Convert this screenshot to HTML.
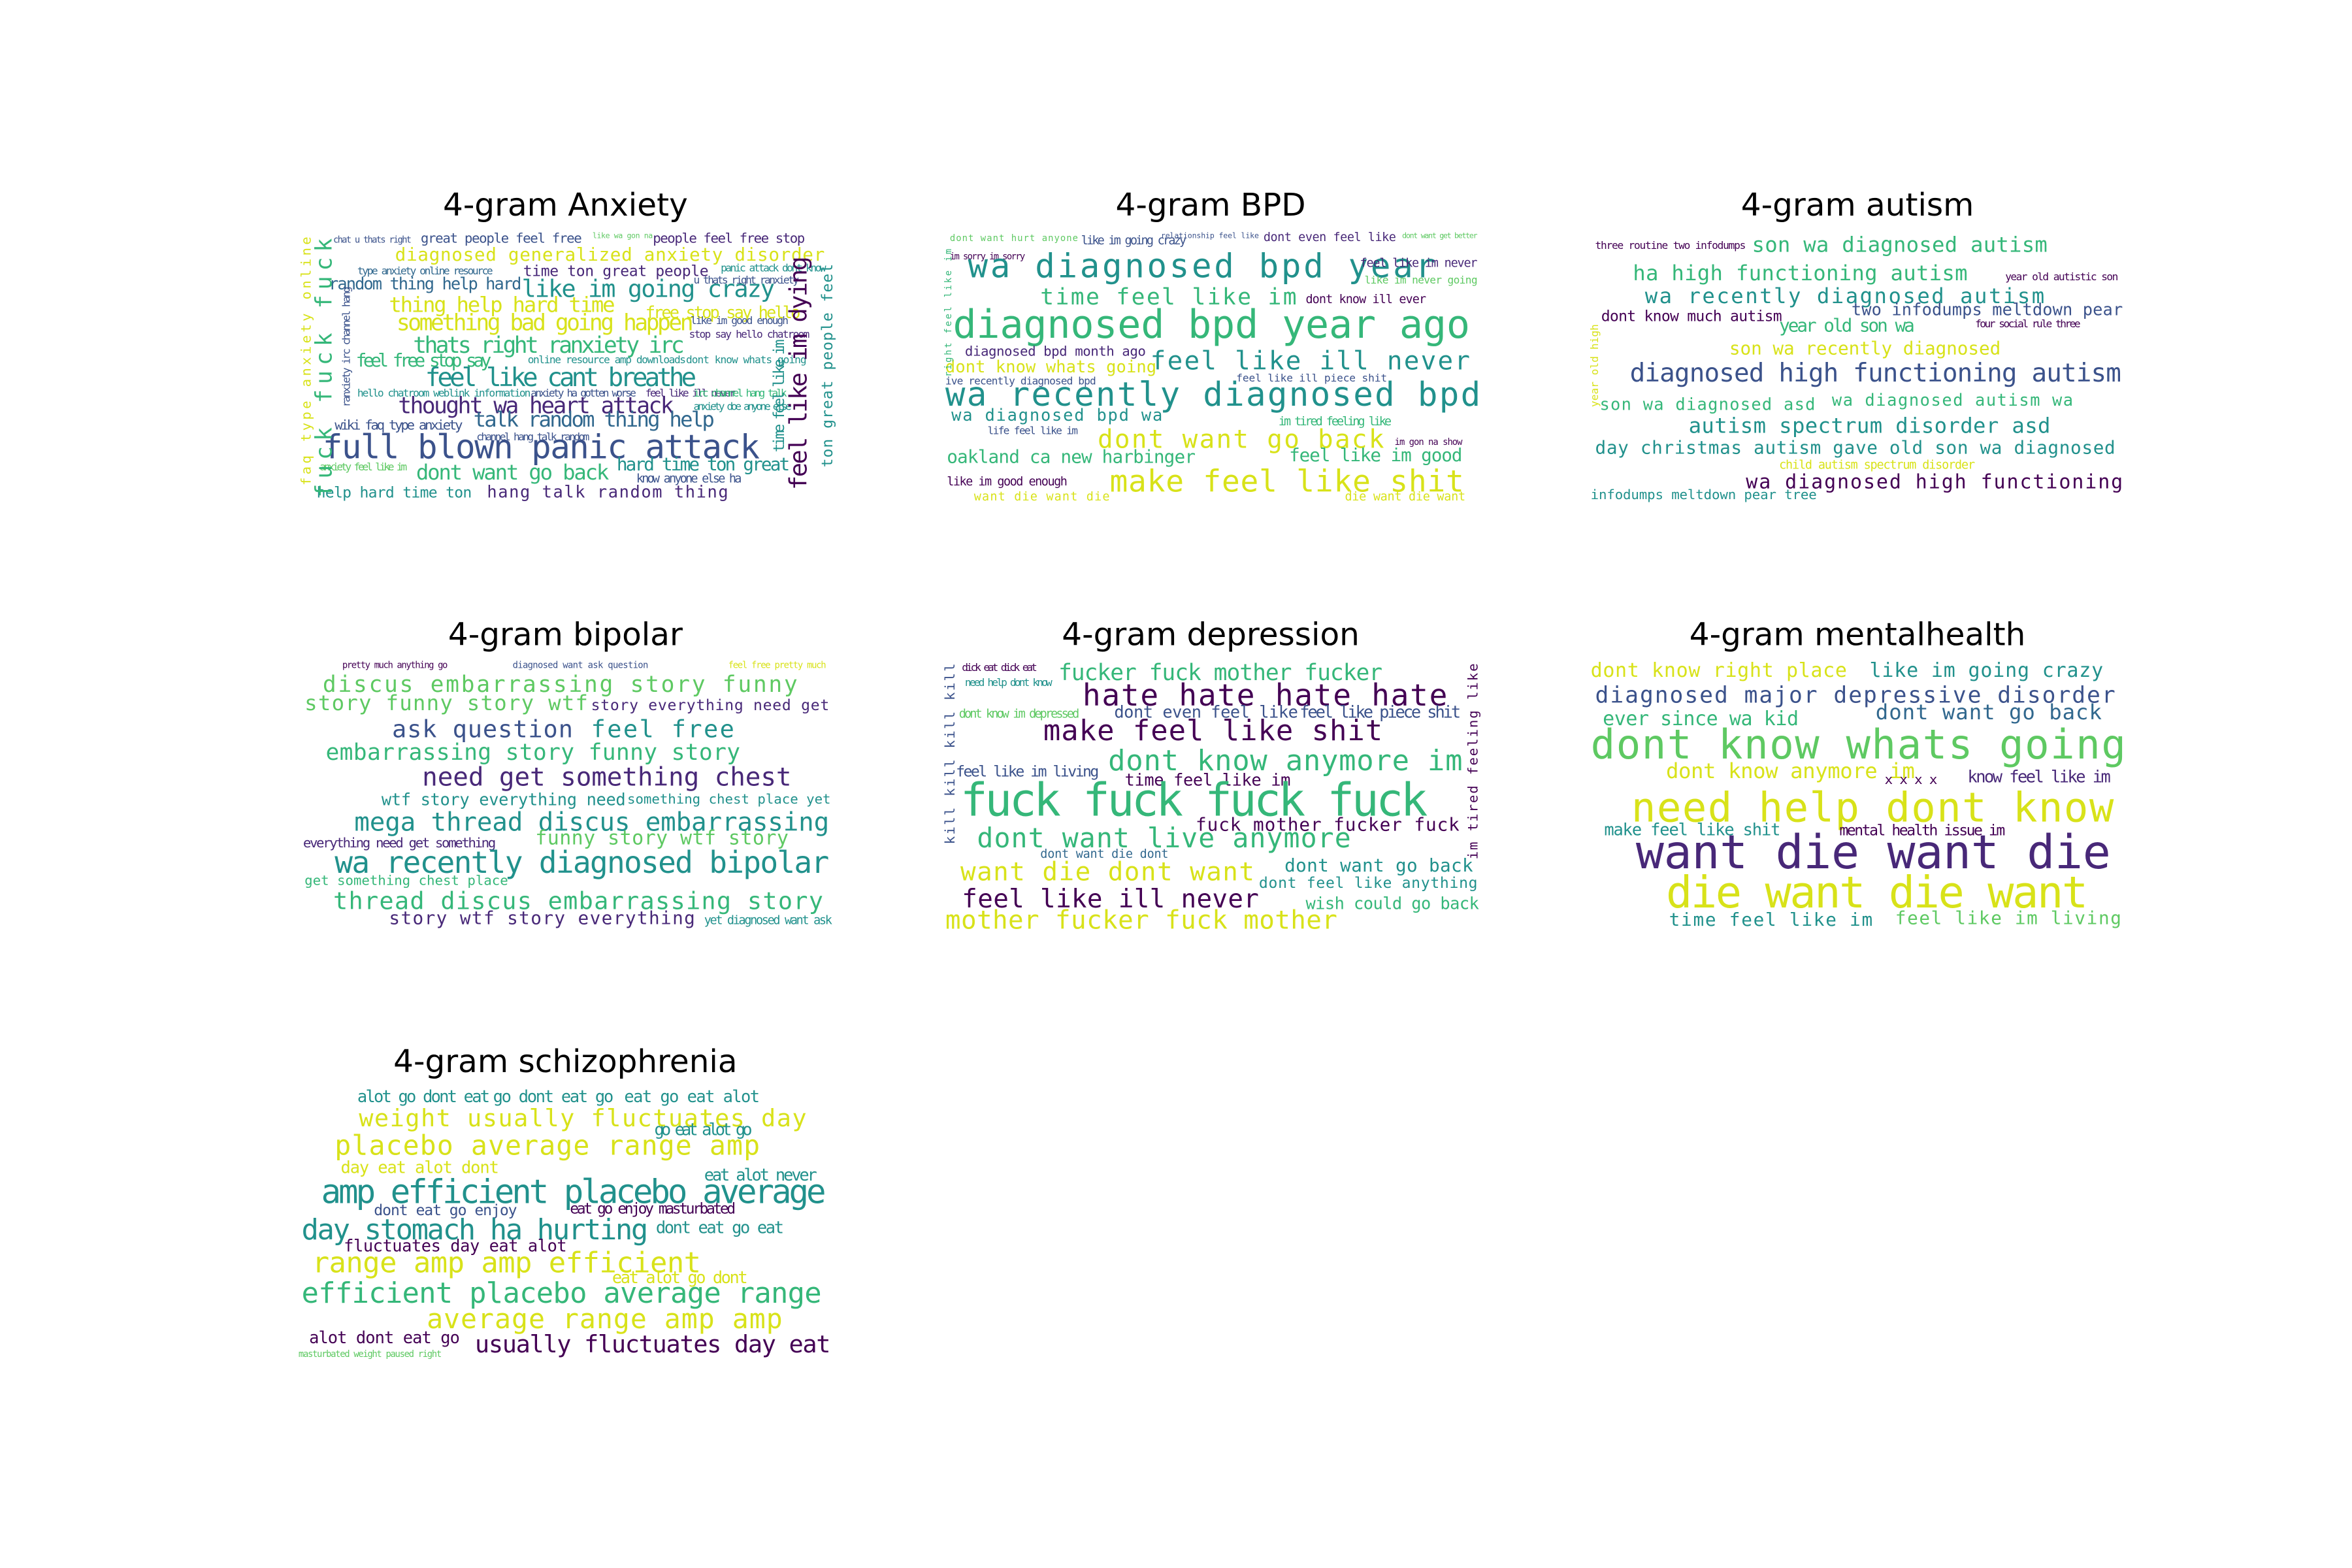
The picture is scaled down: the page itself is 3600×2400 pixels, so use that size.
<!DOCTYPE html>
<html><head><meta charset="utf-8"><style>
html,body{margin:0;padding:0;background:#fff}
svg{display:block}
text{font-family:"DejaVu Sans Mono","Liberation Mono",monospace}
.t{font-family:"DejaVu Sans","Liberation Sans",sans-serif;fill:#000;text-anchor:middle}
.a{fill:#440154}.b{fill:#3b528b}.c{fill:#21918c}.d{fill:#5ec962}.e{fill:#d8e219}.f{fill:#35b779}.g{fill:#31688e}.h{fill:#482878}
</style></head><body>
<svg width="3600" height="2400" viewBox="0 0 1560 1040" xmlns="http://www.w3.org/2000/svg">
<rect width="1560" height="1040" fill="#fff"/>
<text class="t" x="375" y="143" font-size="21">4-gram Anxiety</text>
<text class="t" x="803" y="143" font-size="21">4-gram BPD</text>
<text class="t" x="1232" y="143" font-size="21">4-gram autism</text>
<text class="t" x="375" y="428" font-size="21">4-gram bipolar</text>
<text class="t" x="803" y="428" font-size="21">4-gram depression</text>
<text class="t" x="1232" y="428" font-size="21">4-gram mentalhealth</text>
<text class="t" x="375" y="711" font-size="21">4-gram schizophrenia</text>

<g lengthAdjust="spacingAndGlyphs">
<!-- Anxiety -->
<text class="b" x="221" y="161" font-size="6" textLength="52">chat u thats right</text>
<text class="b" x="279" y="161" font-size="9" textLength="107">great people feel free</text>
<text class="d" x="393" y="158" font-size="5" textLength="40">like wa gon na</text>
<text class="h" x="433" y="161" font-size="9" textLength="101">people feel free stop</text>
<text class="e" x="262" y="173" font-size="12" textLength="285">diagnosed generalized anxiety disorder</text>
<text class="g" x="237" y="182" font-size="7" textLength="90">type anxiety online resource</text>
<text class="h" x="347" y="183" font-size="10" textLength="123">time ton great people</text>
<text class="c" x="478" y="180" font-size="7" textLength="70">panic attack dont know</text>
<text class="g" x="218" y="192" font-size="11" textLength="128">random thing help hard</text>
<text class="c" x="346" y="197" font-size="16" textLength="168">like im going crazy</text>
<text class="b" x="460" y="188" font-size="7" textLength="70">u thats right ranxiety</text>
<text class="e" x="258" y="207" font-size="14" textLength="150">thing help hard time</text>
<text class="e" x="428" y="211" font-size="11" textLength="103">free stop say hello</text>
<text class="e" x="263" y="219" font-size="15" textLength="197">something bad going happen</text>
<text class="b" x="458" y="215" font-size="7" textLength="65">like im good enough</text>
<text class="h" x="457" y="224" font-size="7" textLength="80">stop say hello chatroom</text>
<text class="f" x="274" y="234" font-size="15" textLength="180">thats right ranxiety irc</text>
<text class="c" x="350" y="241" font-size="7" textLength="105">online resource amp downloads</text>
<text class="c" x="455" y="241" font-size="7" textLength="80">dont know whats going</text>
<text class="f" x="236" y="243" font-size="12" textLength="90">feel free stop say</text>
<text class="c" x="282" y="256" font-size="17" textLength="180">feel like cant breathe</text>
<text class="c" x="237" y="263" font-size="7" textLength="115">hello chatroom weblink information</text>
<text class="b" x="352" y="263" font-size="7" textLength="70">anxiety ha gotten worse</text>
<text class="h" x="428" y="263" font-size="7" textLength="60">feel like ill never</text>
<text class="f" x="460" y="263" font-size="7" textLength="62">irc channel hang talk</text>
<text class="h" x="264" y="274" font-size="15" textLength="183">thought wa heart attack</text>
<text class="c" x="460" y="272" font-size="7" textLength="65">anxiety doe anyone else</text>
<text class="g" x="314" y="283" font-size="14" textLength="160">talk random thing help</text>
<text class="b" x="222" y="285" font-size="9" textLength="85">wiki faq type anxiety</text>
<text class="b" x="316" y="292" font-size="7" textLength="75">channel hang talk random</text>
<text class="b" x="214" y="304" font-size="22" textLength="290">full blown panic attack</text>
<text class="c" x="409" y="312" font-size="12" textLength="115">hard time ton great</text>
<text class="f" x="276" y="318" font-size="14" textLength="128">dont want go back</text>
<text class="d" x="212" y="312" font-size="7" textLength="58">anxiety feel like im</text>
<text class="b" x="422" y="320" font-size="8" textLength="70">know anyone else ha</text>
<text class="c" x="210" y="330" font-size="10" textLength="103">help hard time ton</text>
<text class="h" x="323" y="330" font-size="11" textLength="160">hang talk random thing</text>
<text class="f" transform="translate(220,330) rotate(-90)" font-size="15" textLength="172">fuck fuck fuck</text>
<text class="e" transform="translate(206,322) rotate(-90)" font-size="9" textLength="165">faq type anxiety online</text>
<text class="a" transform="translate(535,325) rotate(-90)" font-size="16" textLength="155">feel like im dying</text>
<text class="c" transform="translate(552,310) rotate(-90)" font-size="10" textLength="135">ton great people feel</text>
<text class="c" transform="translate(520,300) rotate(-90)" font-size="10" textLength="75">time feel like im</text>
<text class="b" transform="translate(232,270) rotate(-90)" font-size="7" textLength="80">ranxiety irc channel hang</text>

<!-- BPD -->
<text class="d" x="630" y="160" font-size="6" textLength="85">dont want hurt anyone</text>
<text class="b" x="717" y="162" font-size="8" textLength="70">like im going crazy</text>
<text class="b" x="770" y="158" font-size="5" textLength="65">relationship feel like</text>
<text class="h" x="838" y="160" font-size="8" textLength="88">dont even feel like</text>
<text class="d" x="930" y="158" font-size="5" textLength="50">dont want get better</text>
<text class="a" x="630" y="172" font-size="6" textLength="50">im sorry im sorry</text>
<text class="c" x="642" y="184" font-size="22" textLength="310">wa diagnosed bpd year</text>
<text class="h" x="902" y="177" font-size="8" textLength="78">feel like im never</text>
<text class="d" x="905" y="188" font-size="7" textLength="75">like im never going</text>
<text class="f" x="690" y="202" font-size="15" textLength="170">time feel like im</text>
<text class="a" x="866" y="201" font-size="8" textLength="80">dont know ill ever</text>
<text class="f" x="632" y="224" font-size="26" textLength="343">diagnosed bpd year ago</text>
<text class="h" x="640" y="236" font-size="9" textLength="120">diagnosed bpd month ago</text>
<text class="c" x="763" y="245" font-size="17" textLength="212">feel like ill never</text>
<text class="e" x="627" y="247" font-size="11" textLength="140">dont know whats going</text>
<text class="b" x="627" y="255" font-size="7" textLength="100">ive recently diagnosed bpd</text>
<text class="b" x="820" y="253" font-size="7" textLength="100">feel like ill piece shit</text>
<text class="c" x="627" y="269" font-size="22" textLength="355">wa recently diagnosed bpd</text>
<text class="c" x="631" y="279" font-size="11" textLength="140">wa diagnosed bpd wa</text>
<text class="f" x="848" y="282" font-size="8" textLength="75">im tired feeling like</text>
<text class="b" x="655" y="288" font-size="7" textLength="60">life feel like im</text>
<text class="e" x="728" y="297" font-size="17" textLength="190">dont want go back</text>
<text class="a" x="925" y="295" font-size="6" textLength="45">im gon na show</text>
<text class="f" x="628" y="307" font-size="12" textLength="165">oakland ca new harbinger</text>
<text class="f" x="855" y="306" font-size="12" textLength="115">feel like im good</text>
<text class="a" x="628" y="322" font-size="8" textLength="80">like im good enough</text>
<text class="e" x="736" y="326" font-size="20" textLength="235">make feel like shit</text>
<text class="e" x="646" y="332" font-size="8" textLength="90">want die want die</text>
<text class="e" x="892" y="332" font-size="8" textLength="80">die want die want</text>
<text class="f" transform="translate(631,250) rotate(-90)" font-size="6" textLength="85">right feel like im</text>

<!-- autism -->
<text class="a" x="1058" y="165" font-size="7" textLength="100">three routine two infodumps</text>
<text class="f" x="1162" y="167" font-size="14" textLength="196">son wa diagnosed autism</text>
<text class="f" x="1083" y="186" font-size="14" textLength="222">ha high functioning autism</text>
<text class="a" x="1330" y="186" font-size="7" textLength="75">year old autistic son</text>
<text class="c" x="1091" y="201" font-size="14" textLength="265">wa recently diagnosed autism</text>
<text class="b" x="1228" y="209" font-size="11" textLength="180">two infodumps meltdown pear</text>
<text class="a" x="1062" y="213" font-size="10" textLength="120">dont know much autism</text>
<text class="f" x="1180" y="220" font-size="12" textLength="90">year old son wa</text>
<text class="a" x="1310" y="217" font-size="7" textLength="70">four social rule three</text>
<text class="e" x="1147" y="235" font-size="12" textLength="180">son wa recently diagnosed</text>
<text class="b" x="1081" y="253" font-size="17" textLength="326">diagnosed high functioning autism</text>
<text class="f" x="1061" y="272" font-size="11" textLength="143">son wa diagnosed asd</text>
<text class="f" x="1215" y="269" font-size="11" textLength="160">wa diagnosed autism wa</text>
<text class="c" x="1120" y="287" font-size="14" textLength="240">autism spectrum disorder asd</text>
<text class="c" x="1058" y="301" font-size="12" textLength="345">day christmas autism gave old son wa diagnosed</text>
<text class="e" x="1180" y="311" font-size="8" textLength="130">child autism spectrum disorder</text>
<text class="a" x="1158" y="324" font-size="13" textLength="250">wa diagnosed high functioning</text>
<text class="c" x="1055" y="331" font-size="9" textLength="150">infodumps meltdown pear tree</text>
<text class="e" transform="translate(1060,270) rotate(-90)" font-size="7" textLength="55">year old high</text>

<!-- bipolar -->
<text class="a" x="227" y="443" font-size="6" textLength="70">pretty much anything go</text>
<text class="b" x="340" y="443" font-size="6" textLength="90">diagnosed want ask question</text>
<text class="e" x="483" y="443" font-size="6" textLength="65">feel free pretty much</text>
<text class="d" x="214" y="459" font-size="15" textLength="315">discus embarrassing story funny</text>
<text class="d" x="202" y="471" font-size="14" textLength="188">story funny story wtf</text>
<text class="h" x="392" y="471" font-size="10" textLength="158">story everything need get</text>
<text class="b" x="260" y="489" font-size="16" textLength="120">ask question</text>
<text class="c" x="392" y="489" font-size="16" textLength="95">feel free</text>
<text class="f" x="216" y="504" font-size="15" textLength="275">embarrassing story funny story</text>
<text class="h" x="280" y="521" font-size="17" textLength="245">need get something chest</text>
<text class="c" x="253" y="534" font-size="11" textLength="162">wtf story everything need</text>
<text class="c" x="416" y="533" font-size="9" textLength="135">something chest place yet</text>
<text class="c" x="235" y="551" font-size="17" textLength="315">mega thread discus embarrassing</text>
<text class="h" x="201" y="562" font-size="9" textLength="128">everything need get something</text>
<text class="d" x="355" y="560" font-size="13" textLength="168">funny story wtf story</text>
<text class="c" x="222" y="579" font-size="20" textLength="328">wa recently diagnosed bipolar</text>
<text class="f" x="202" y="587" font-size="9" textLength="135">get something chest place</text>
<text class="f" x="221" y="603" font-size="16" textLength="325">thread discus embarrassing story</text>
<text class="h" x="258" y="613" font-size="12" textLength="203">story wtf story everything</text>
<text class="c" x="467" y="613" font-size="8" textLength="85">yet diagnosed want ask</text>

<!-- depression -->
<text class="a" x="638" y="445" font-size="7" textLength="50">dick eat dick eat</text>
<text class="c" x="640" y="455" font-size="7" textLength="58">need help dont know</text>
<text class="f" x="702" y="451" font-size="15" textLength="215">fucker fuck mother fucker</text>
<text class="a" x="718" y="468" font-size="20" textLength="242">hate hate hate hate</text>
<text class="b" x="739" y="476" font-size="11" textLength="122">dont even feel like</text>
<text class="b" x="862" y="476" font-size="11" textLength="107">feel like piece shit</text>
<text class="d" x="636" y="476" font-size="8" textLength="80">dont know im depressed</text>
<text class="a" x="692" y="491" font-size="19" textLength="225">make feel like shit</text>
<text class="f" x="735" y="511" font-size="19" textLength="235">dont know anymore im</text>
<text class="b" x="634" y="515" font-size="10" textLength="95">feel like im living</text>
<text class="a" x="746" y="521" font-size="11" textLength="110">time feel like im</text>
<text class="f" x="637" y="541" font-size="30" textLength="310">fuck fuck fuck fuck</text>
<text class="a" x="793" y="551" font-size="12" textLength="175">fuck mother fucker fuck</text>
<text class="f" x="648" y="562" font-size="18" textLength="248">dont want live anymore</text>
<text class="g" x="690" y="569" font-size="8" textLength="85">dont want die dont</text>
<text class="e" x="637" y="584" font-size="17" textLength="195">want die dont want</text>
<text class="c" x="852" y="578" font-size="12" textLength="125">dont want go back</text>
<text class="c" x="835" y="589" font-size="10" textLength="145">dont feel like anything</text>
<text class="a" x="638" y="602" font-size="17" textLength="197">feel like ill never</text>
<text class="f" x="866" y="603" font-size="11" textLength="115">wish could go back</text>
<text class="e" x="627" y="616" font-size="17" textLength="260">mother fucker fuck mother</text>
<text class="b" transform="translate(633,560) rotate(-90)" font-size="9" textLength="120">kill kill kill kill</text>
<text class="a" transform="translate(980,570) rotate(-90)" font-size="9" textLength="130">im tired feeling like</text>

<!-- mentalhealth -->
<text class="e" x="1055" y="449" font-size="13" textLength="170">dont know right place</text>
<text class="c" x="1240" y="449" font-size="13" textLength="155">like im going crazy</text>
<text class="b" x="1058" y="466" font-size="15" textLength="345">diagnosed major depressive disorder</text>
<text class="f" x="1063" y="481" font-size="13" textLength="130">ever since wa kid</text>
<text class="g" x="1244" y="477" font-size="14" textLength="150">dont want go back</text>
<text class="d" x="1055" y="503" font-size="27" textLength="355">dont know whats going</text>
<text class="e" x="1105" y="516" font-size="14" textLength="165">dont know anymore im</text>
<text class="a" x="1250" y="520" font-size="9" textLength="35">x x x x</text>
<text class="h" x="1305" y="519" font-size="11" textLength="95">know feel like im</text>
<text class="e" x="1082" y="545" font-size="27" textLength="320">need help dont know</text>
<text class="c" x="1064" y="554" font-size="11" textLength="117">make feel like shit</text>
<text class="a" x="1220" y="554" font-size="10" textLength="110">mental health issue im</text>
<text class="h" x="1085" y="576" font-size="31" textLength="315">want die want die</text>
<text class="e" x="1105" y="602" font-size="29" textLength="280">die want die want</text>
<text class="c" x="1107" y="614" font-size="12" textLength="135">time feel like im</text>
<text class="d" x="1257" y="613" font-size="12" textLength="150">feel like im living</text>

<!-- schizophrenia -->
<text class="c" x="237" y="731" font-size="11" textLength="88">alot go dont eat</text>
<text class="c" x="327" y="731" font-size="11" textLength="80">go dont eat go</text>
<text class="c" x="414" y="731" font-size="11" textLength="90">eat go eat alot</text>
<text class="e" x="238" y="747" font-size="16" textLength="297">weight usually fluctuates day</text>
<text class="c" x="434" y="753" font-size="11" textLength="65">go eat alot go</text>
<text class="e" x="222" y="766" font-size="18" textLength="282">placebo average range amp</text>
<text class="e" x="226" y="778" font-size="11" textLength="105">day eat alot dont</text>
<text class="c" x="467" y="783" font-size="11" textLength="75">eat alot never</text>
<text class="c" x="213" y="798" font-size="22" textLength="335">amp efficient placebo average</text>
<text class="b" x="248" y="806" font-size="10" textLength="95">dont eat go enjoy</text>
<text class="a" x="378" y="805" font-size="10" textLength="110">eat go enjoy masturbated</text>
<text class="c" x="200" y="822" font-size="19" textLength="230">day stomach ha hurting</text>
<text class="c" x="435" y="818" font-size="11" textLength="85">dont eat go eat</text>
<text class="a" x="228" y="830" font-size="11" textLength="148">fluctuates day eat alot</text>
<text class="e" x="207" y="844" font-size="19" textLength="258">range amp amp efficient</text>
<text class="e" x="406" y="851" font-size="11" textLength="90">eat alot go dont</text>
<text class="f" x="200" y="864" font-size="19" textLength="345">efficient placebo average range</text>
<text class="e" x="283" y="881" font-size="18" textLength="236">average range amp amp</text>
<text class="a" x="205" y="891" font-size="11" textLength="100">alot dont eat go</text>
<text class="a" x="315" y="897" font-size="16" textLength="236">usually fluctuates day eat</text>
<text class="d" x="198" y="900" font-size="6" textLength="95">masturbated weight paused right</text>
</g>
</svg>
</body></html>
